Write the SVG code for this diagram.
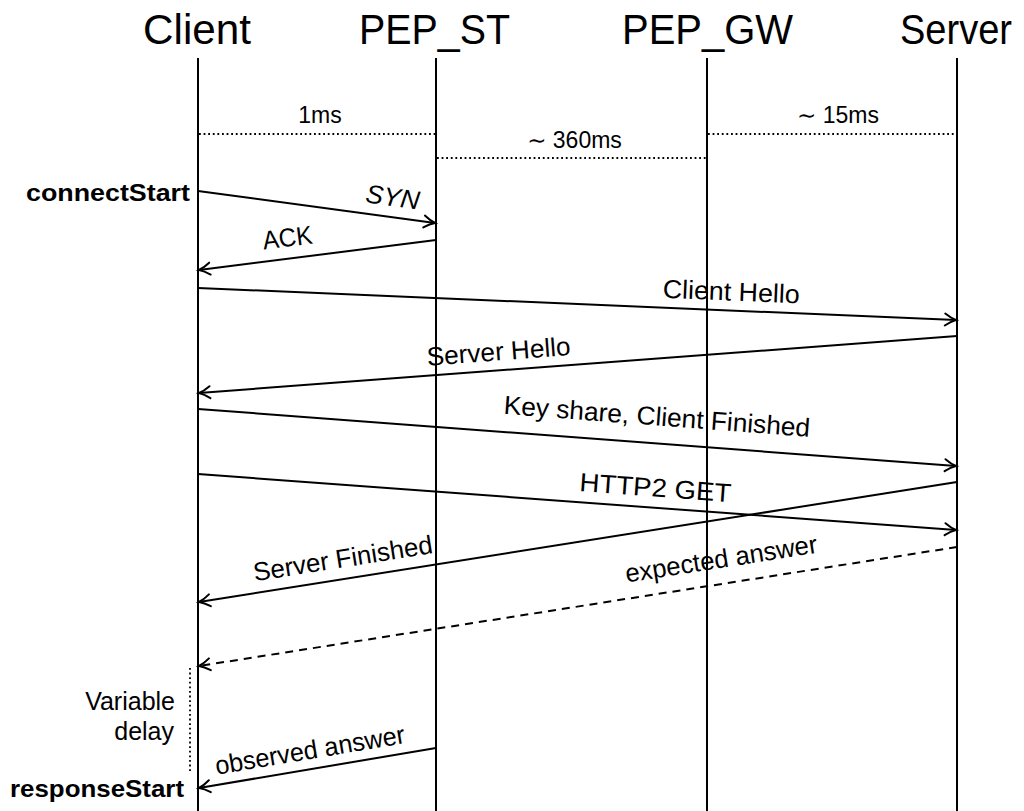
<svg xmlns="http://www.w3.org/2000/svg" width="1024" height="811" viewBox="0 0 1024 811">
<defs>
<style>
text{font-family:"Liberation Sans","DejaVu Sans",sans-serif;fill:#000}
.hdr{font-size:43px;text-anchor:middle}
.lbl{font-size:26px;text-anchor:middle}
.dur{font-size:23px;text-anchor:middle}
.side{font-size:25px;text-anchor:end}
.bold{font-size:24px;font-weight:bold;text-anchor:end}
.life{stroke:#000;stroke-width:2;fill:none}
.msg{stroke:#000;stroke-width:2;fill:none;marker-end:url(#arr)}
.dash{stroke-dasharray:8 6}
.dot{stroke:#000;stroke-width:1.8;stroke-dasharray:1.8 2.8;fill:none}
</style>
<marker id="arr" markerUnits="userSpaceOnUse" viewBox="-12 -8 14 16" refX="0" refY="0" markerWidth="14" markerHeight="16" orient="auto" overflow="visible">
<path d="M -11,-6 C -6.5,-2.7 -2.2,-0.7 0,0 C -2.2,0.7 -6.5,2.7 -11,6" stroke="#000" stroke-width="2" fill="none" stroke-linecap="round" stroke-dasharray="none"/>
</marker>
</defs>
<rect width="1024" height="811" fill="#fff"/>

<g id="client">
<text class="hdr" x="197" y="44" textLength="108" lengthAdjust="spacingAndGlyphs">Client</text>
<line class="life" x1="198" y1="58" x2="198" y2="811"/>
</g>
<g id="pep_st">
<text class="hdr" x="434.5" y="44" textLength="151" lengthAdjust="spacingAndGlyphs">PEP_ST</text>
<line class="life" x1="436" y1="58" x2="436" y2="811"/>
</g>
<g id="pep_gw">
<text class="hdr" x="707.5" y="44" textLength="171" lengthAdjust="spacingAndGlyphs">PEP_GW</text>
<line class="life" x1="707" y1="58" x2="707" y2="811"/>
</g>
<g id="server">
<text class="hdr" x="956" y="44" textLength="112" lengthAdjust="spacingAndGlyphs">Server</text>
<line class="life" x1="957" y1="58" x2="957" y2="811"/>
</g>

<g id="latencies">
<line class="dot" x1="199" y1="134" x2="435" y2="134"/>
<text class="dur" x="320" y="123">1ms</text>
<line class="dot" x1="437" y1="158" x2="706" y2="158"/>
<text class="dur" x="574.5" y="148">∼ 360ms</text>
<line class="dot" x1="708" y1="134" x2="956" y2="134"/>
<text class="dur" x="838" y="123">∼ 15ms</text>
</g>

<g id="annotations">
<text class="bold" x="190" y="201" textLength="164" lengthAdjust="spacingAndGlyphs">connectStart</text>
<text class="bold" x="184" y="797" textLength="174" lengthAdjust="spacingAndGlyphs">responseStart</text>
<text class="side" x="175" y="710">Variable</text>
<text class="side" x="174" y="740">delay</text>
<line class="dot" x1="190" y1="668" x2="190" y2="773"/>
</g>

<g id="connectors">
<line class="msg" x1="198" y1="191" x2="435" y2="223"/>
<line class="msg" x1="436" y1="240" x2="199" y2="270"/>
<line class="msg" x1="198" y1="288" x2="956" y2="320"/>
<line class="msg" x1="957" y1="336" x2="199" y2="393"/>
<line class="msg" x1="198" y1="409" x2="956" y2="466"/>
<line class="msg" x1="198" y1="474" x2="956" y2="530"/>
<line class="msg" x1="957" y1="482" x2="199" y2="602"/>
<line class="msg dash" x1="957" y1="547" x2="199" y2="666"/>
<line class="msg" x1="436" y1="748" x2="199" y2="788"/>
</g>

<g id="connector-labels">
<g transform="translate(390,216.8) rotate(7.66)"><text class="lbl" x="0" y="-11" font-style="italic" textLength="54" lengthAdjust="spacingAndGlyphs">SYN</text></g>
<g transform="translate(290,258.4) rotate(-7.18)"><text class="lbl" x="0" y="-12" textLength="50" lengthAdjust="spacingAndGlyphs">ACK</text></g>
<g transform="translate(730.5,310.5) rotate(2.41)"><text class="lbl" x="0" y="-10" textLength="137" lengthAdjust="spacingAndGlyphs">Client Hello</text></g>
<g transform="translate(500,370.3) rotate(-4.29)"><text class="lbl" x="0" y="-10" textLength="144" lengthAdjust="spacingAndGlyphs">Server Hello</text></g>
<g transform="translate(655,443.3) rotate(4.29)"><text class="lbl" x="0" y="-18" textLength="307" lengthAdjust="spacingAndGlyphs">Key share, Client Finished</text></g>
<g transform="translate(654,507.6) rotate(4.22)"><text class="lbl" x="0" y="-11" textLength="152" lengthAdjust="spacingAndGlyphs">HTTP2 GET</text></g>
<g transform="translate(346,578.6) rotate(-8.98)"><text class="lbl" x="0" y="-11.5" textLength="181" lengthAdjust="spacingAndGlyphs">Server Finished</text></g>
<g transform="translate(725,583.4) rotate(-8.91)"><text class="lbl" x="0" y="-16" textLength="194" lengthAdjust="spacingAndGlyphs">expected answer</text></g>
<g transform="translate(313,768.7) rotate(-9.54)"><text class="lbl" x="0" y="-10" textLength="192" lengthAdjust="spacingAndGlyphs">observed answer</text></g>
</g>
</svg>
